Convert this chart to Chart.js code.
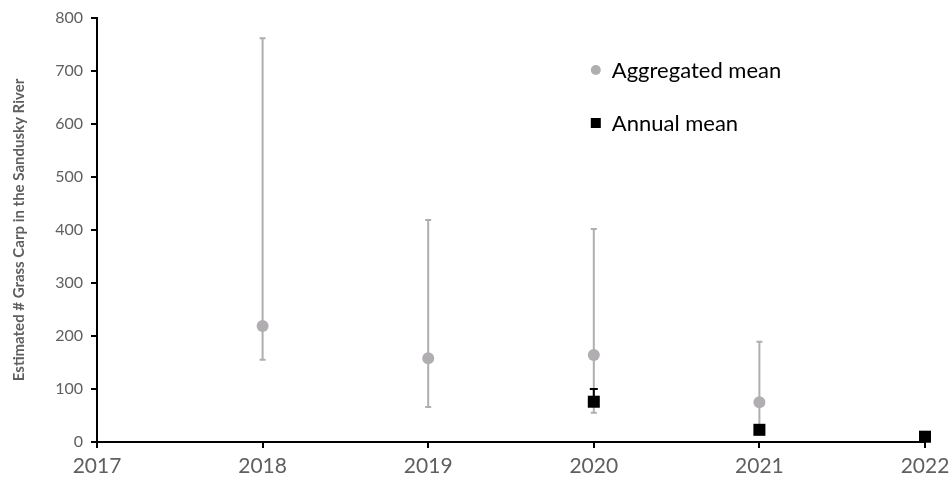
<!DOCTYPE html>
<html>
<head>
<meta charset="utf-8">
<script src="https://cdn.jsdelivr.net/npm/chart.js@4"></script>
<style>
  html, body { margin: 0; padding: 0; background: #fff; }
  #wrap { width: 952px; height: 489px; position: relative; }
</style>
</head>
<body>
<div id="wrap"><canvas id="c" width="952" height="489"></canvas></div>
<script>
// Sampling years and estimates
const aggYears  = [2018, 2019, 2020, 2021];
const aggMean   = [219, 158, 164, 75];
const aggLow    = [155, 66, 55, 25];
const aggHigh   = [762, 419, 402, 189];

const annYears  = [2020, 2021, 2022];
const annMean   = [76, 23, 10];
const annLow    = [68, 15, 5];
const annHigh   = [100, 30, 14];

const yTicks    = [0, 100, 200, 300, 400, 500, 600, 700, 800];
const xTicks    = [2017, 2018, 2019, 2020, 2021, 2022];

const seriesNames = ['Aggregated mean', 'Annual mean'];
const yTitle = 'Estimated # Grass Carp in the Sandusky River';

const GREY = '#b0aeb0';
const LABEL = '#5f5f5f';

// Vertical error bars with caps, drawn through the chart's scales
const errorBars = {
  id: 'errorBars',
  beforeDatasetsDraw(chart) {
    const { ctx, scales: { x, y } } = chart;
    const sets = [
      { xs: aggYears, lo: aggLow, hi: aggHigh, color: GREY, cap: 3 },
      { xs: annYears, lo: annLow, hi: annHigh, color: '#000', cap: 4 }
    ];
    ctx.save();
    sets.forEach(s => {
      ctx.strokeStyle = s.color;
      ctx.lineWidth = 2;
      s.xs.forEach((yr, i) => {
        const px = x.getPixelForValue(yr);
        const pLo = y.getPixelForValue(s.lo[i]);
        const pHi = y.getPixelForValue(s.hi[i]);
        ctx.beginPath();
        ctx.moveTo(px, pLo); ctx.lineTo(px, pHi);
        ctx.moveTo(px - s.cap, pLo); ctx.lineTo(px + s.cap, pLo);
        ctx.moveTo(px - s.cap, pHi); ctx.lineTo(px + s.cap, pHi);
        ctx.stroke();
      });
    });
    ctx.restore();
  }
};

// Legend placed inside the plot area
const insideLegend = {
  id: 'insideLegend',
  afterDraw(chart) {
    const { ctx, scales: { x, y } } = chart;
    const lx = x.getPixelForValue(2020) + 2;
    const rows = [
      { y: y.getPixelForValue(700), name: seriesNames[0], shape: 'circle', color: GREY },
      { y: y.getPixelForValue(600), name: seriesNames[1], shape: 'rect', color: '#000' }
    ];
    ctx.save();
    ctx.font = '22px Lato, "Open Sans", sans-serif';
    ctx.textBaseline = 'middle';
    rows.forEach(r => {
      ctx.fillStyle = r.color;
      if (r.shape === 'circle') {
        ctx.beginPath(); ctx.arc(lx, r.y - 1, 5, 0, Math.PI * 2); ctx.fill();
      } else {
        ctx.fillRect(lx - 5, r.y - 6, 10, 10);
      }
      ctx.fillStyle = '#000';
      ctx.fillText(r.name, lx + 16, r.y);
    });
    ctx.restore();
  }
};

new Chart(document.getElementById('c'), {
  type: 'scatter',
  data: {
    datasets: [
      {
        label: seriesNames[0],
        data: aggYears.map((yr, i) => ({ x: yr, y: aggMean[i] })),
        pointStyle: 'circle',
        pointRadius: 6,
        backgroundColor: GREY,
        borderWidth: 0,
        clip: false
      },
      {
        label: seriesNames[1],
        data: annYears.map((yr, i) => ({ x: yr, y: annMean[i] })),
        pointStyle: 'rect',
        pointRadius: 8.5,
        backgroundColor: '#000',
        borderWidth: 0,
        clip: false
      }
    ]
  },
  options: {
    responsive: false,
    animation: false,
    layout: { padding: { top: 18, right: 27, left: 10, bottom: 0 } },
    plugins: { legend: { display: false }, tooltip: { enabled: false } },
    scales: {
      x: {
        type: 'linear',
        min: 2017, max: 2022,
        afterBuildTicks: s => { s.ticks = xTicks.map(v => ({ value: v })); },
        afterFit: s => { s.height = 47; s.paddingLeft = 0; s.paddingRight = 0; },
        grid: { drawOnChartArea: false, drawTicks: true, tickLength: 6, color: '#000', lineWidth: 2 },
        border: { color: '#000', width: 2 },
        ticks: {
          color: LABEL,
          font: { family: 'Lato, "Open Sans", sans-serif', size: 21 },
          padding: 6,
          maxRotation: 0,
          callback: v => String(v)
        }
      },
      y: {
        min: 0, max: 800,
        afterBuildTicks: s => { s.ticks = yTicks.map(v => ({ value: v })); },
        afterFit: s => { s.width = 87; },
        grid: { drawOnChartArea: false, drawTicks: true, tickLength: 6, color: '#000', lineWidth: 2 },
        border: { color: '#000', width: 2 },
        ticks: {
          color: LABEL,
          font: { family: 'Lato, "Open Sans", sans-serif', size: 16 },
          padding: 8
        },
        title: {
          display: true,
          text: yTitle,
          color: LABEL,
          font: { family: 'Lato, "Open Sans", sans-serif', size: 15, weight: 'bold' },
          padding: { top: 0, bottom: 0 }
        }
      }
    }
  },
  plugins: [errorBars, insideLegend]
});
</script>
</body>
</html>
